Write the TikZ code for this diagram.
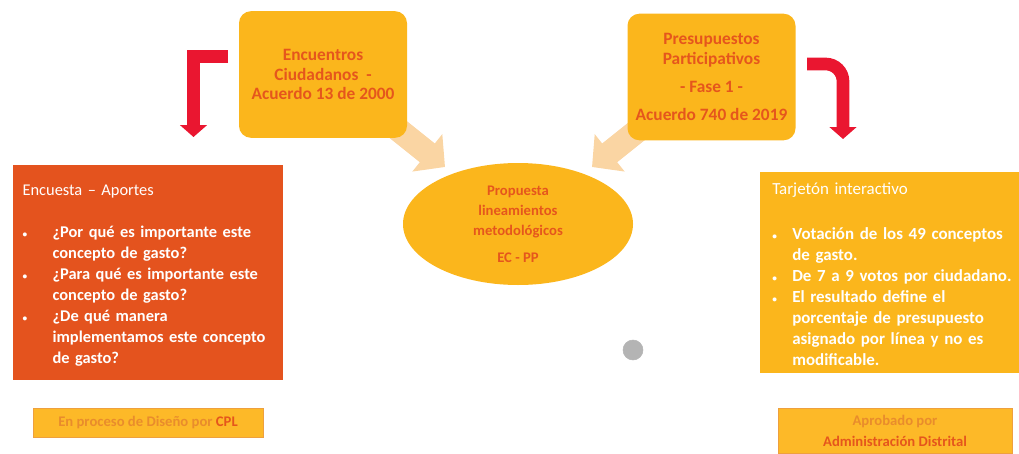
\documentclass[tikz,border=0pt]{standalone}
\usepackage{fontspec}
\setmainfont{Carlito}
\usetikzlibrary{shapes.geometric,arrows.meta}

\definecolor{amarillo}{HTML}{FBB61C}
\definecolor{naranja}{HTML}{E4531E}
\definecolor{letra}{HTML}{E5561C}
\definecolor{rojo}{HTML}{EA1630}
\definecolor{durazno}{HTML}{FAD5A3}
\definecolor{etiqueta}{HTML}{FDB928}
\definecolor{borde}{HTML}{EEA03E}
\definecolor{letrasuave}{HTML}{E98C2C}
\definecolor{gris}{HTML}{B4B4B4}

\newcommand{\vineta}[1]{\par\noindent\hangindent=#1\hangafter=1\makebox[#1][l]{\fontsize{7}{7}\selectfont\textbullet}}

\begin{document}
\begin{tikzpicture}[x=0.75pt,y=-0.75pt,
	caja/.style={fill=amarillo, rounded corners=9pt, minimum width=126pt, minimum height=95pt, align=center, text=letra, font=\bfseries\fontsize{13}{14.5}\selectfont},
	lista/.style={anchor=north west, inner xsep=7pt, inner ysep=0pt, align=left},
	etiq/.style={fill=etiqueta, draw=borde, line width=0.6pt, align=center, text=letrasuave, font=\bfseries\fontsize{11}{15.75}\selectfont},
	flecharoja/.style={draw=rojo, line width=9.5pt, -{Triangle[width=20pt,length=9pt]}},
	flechasuave/.style={draw=durazno, line width=18pt, -{Triangle[width=35pt,length=17pt]}}]
	\clip (0,0) rectangle (1019,453);

	\coordinate (ini1) at (390,123);
	\coordinate (fin1) at (445,167);
	\coordinate (ini2) at (647,123);
	\coordinate (fin2) at (592,167);
	\draw [flechasuave] (ini1) -- (fin1);
	\draw [flechasuave] (ini2) -- (fin2);

	\node[caja] (encuentros) at (323,74.5) {Encuentros\\Ciudadanos\ \ -\\Acuerdo 13 de 2000};
	\node[caja] (presupuestos) at (711.5,77) {Presupuestos\\Participativos\\[6.5pt]- Fase 1 -\\[6.5pt]Acuerdo 740 de 2019};

	\node[ellipse, fill=amarillo, minimum width=172.5pt, minimum height=91.5pt, inner sep=0pt, align=center, text=letra, font=\bfseries\fontsize{11}{15}\selectfont] (propuesta) at (518,224) {Propuesta\\lineamientos\\metodológicos\\[5pt]EC - PP};

	\node[lista, fill=naranja, text=white, text width=188pt, text height=23pt, text depth=138.25pt, font=\fontsize{12.3}{15.75}\selectfont] (encuesta) at (13,165) {%
		Encuesta – Aportes\par\vspace{15.75pt}
		\bfseries
		\vineta{22.5pt}¿Por qué es importante este\newline concepto de gasto?
		\vineta{22.5pt}¿Para qué es importante este\newline concepto de gasto?
		\vineta{22.5pt}¿De qué manera\newline implementamos este concepto\newline de gasto?\par};

	\node[lista, fill=amarillo, text=white, inner xsep=9pt, text width=182pt, text height=17pt, text depth=133.75pt, font=\fontsize{12.7}{15.75}\selectfont] (tarjeton) at (760,172) {%
		Tarjetón interactivo\par\vspace{18pt}
		\bfseries
		\vineta{15pt}Votación de los 49 conceptos\newline de gasto.
		\vineta{15pt}De 7 a 9 votos por ciudadano.
		\vineta{15pt}El resultado define el\newline porcentaje de presupuesto\newline asignado por línea y no es\newline modificable.\par};

	\coordinate (r1) at (228,56.5);
	\coordinate (r2) at (193.5,137);
	\draw [flecharoja] (r1) -| (r2);
	\coordinate (r3) at (807,64);
	\coordinate (r4) at (843,139);
	\draw [flecharoja, rounded corners=13pt] (r3) -| (r4);

	\node[etiq, minimum width=172.5pt, minimum height=21.75pt] (diseno) at (148,422.5) {En proceso de Diseño por {\color{letra}CPL}};
	\node[etiq, anchor=north, minimum width=175.5pt, inner ysep=5pt] (aprobado) at (895,408) {Aprobado por\\{\color{letra}Administración Distrital}};

	\filldraw[gris] (633,350) circle (7.5pt);
\end{tikzpicture}
\end{document}
